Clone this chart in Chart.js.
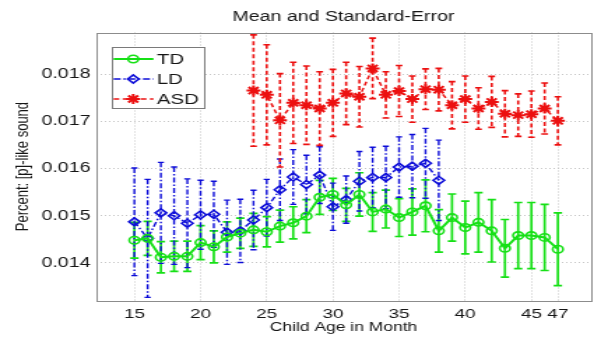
<!DOCTYPE html>
<html>
<head>
<meta charset="utf-8">
<script src="https://cdn.jsdelivr.net/npm/chart.js@4.4.1/dist/chart.umd.min.js"></script>
<style>
  html,body{margin:0;padding:0;background:#fff;overflow:hidden}
  /* the source image is stretched sideways, so draw narrow and stretch */
  #wrap{width:430px;height:337px;transform:scaleX(1.3977);transform-origin:0 0}
</style>
</head>
<body>
<div id="wrap"><canvas id="c"></canvas></div>
<script>
// ====== DATA ======
const titleText = 'Mean and Standard-Error';
const xTitle = 'Child Age in Month';
const yTitle = 'Percent: [p]-like sound';
const xTicks = [15, 20, 25, 30, 35, 40, 45, 47];
const yTicks = [0.014, 0.015, 0.016, 0.017, 0.018];

const tdAges = [15,16,17,18,19,20,21,22,23,24,25,26,27,28,29,30,31,32,33,34,35,36,37,38,39,40,41,42,43,44,45,46,47];
const tdMean = [0.01448,0.01452,0.01412,0.01414,0.01414,0.01443,0.01434,0.01455,0.01463,0.01470,0.01466,0.01478,0.01485,0.01499,0.01539,0.01545,0.01523,0.01545,0.01508,0.01514,0.01496,0.01508,0.01521,0.01468,0.01496,0.01475,0.01486,0.01468,0.01431,0.01458,0.01458,0.01454,0.01429];
const tdErr  = [0.00038,0.00036,0.00033,0.00032,0.00032,0.00036,0.00034,0.00032,0.00032,0.00035,0.00032,0.00034,0.00034,0.00035,0.00036,0.00034,0.00035,0.00046,0.00041,0.00040,0.00040,0.00049,0.00055,0.00045,0.00050,0.00056,0.00063,0.00066,0.00061,0.00070,0.00070,0.00070,0.00077];

const ldAges = [15,16,17,18,19,20,21,22,23,24,25,26,27,28,29,30,31,32,33,34,35,36,37,38];
const ldMean = [0.01487,0.01452,0.01506,0.01500,0.01484,0.01502,0.01503,0.01465,0.01468,0.01491,0.01517,0.01555,0.01582,0.01566,0.01586,0.01519,0.01534,0.01573,0.01581,0.01581,0.01603,0.01605,0.01611,0.01575];
const ldErr  = [0.00114,0.00125,0.00107,0.00103,0.00094,0.00073,0.00070,0.00068,0.00067,0.00063,0.00060,0.00065,0.00058,0.00062,0.00060,0.00050,0.00050,0.00063,0.00064,0.00066,0.00064,0.00067,0.00074,0.00085];

const asdAges = [24,25,26,27,28,29,30,31,32,33,34,35,36,37,38,39,40,41,42,43,44,45,46,47];
const asdMean = [0.01765,0.01756,0.01702,0.01739,0.01734,0.01727,0.01739,0.01759,0.01752,0.01812,0.01756,0.01764,0.01747,0.01768,0.01767,0.01734,0.01747,0.01727,0.01741,0.01716,0.01713,0.01715,0.01727,0.01701];
const asdErr  = [0.00118,0.00106,0.00099,0.00086,0.00083,0.00078,0.00071,0.00066,0.00064,0.00064,0.00049,0.00054,0.00049,0.00043,0.00045,0.00050,0.00049,0.00044,0.00054,0.00049,0.00045,0.00049,0.00054,0.00051];

// ====== STYLE ======
const FONT = 'Liberation Sans, Arial, Helvetica, sans-serif';
const INK = '#151515';
const GREEN = '#16e016', BLUE = '#0c0cd8', RED = '#ec1010';
const pts = (ages, vals) => ages.map((a, i) => ({ x: a, y: vals[i] }));

// ====== PLUGINS ======
const errorBars = {
  id: 'errorBars',
  beforeDatasetsDraw(chart){
    const ctx = chart.ctx, ys = chart.scales.y;
    chart.data.datasets.forEach((ds, i) => {
      const meta = chart.getDatasetMeta(i);
      ctx.save(); ctx.strokeStyle = ds.borderColor; ctx.lineWidth = ds.errWidth;
      meta.data.forEach((p, j) => {
        const v = ds.data[j].y, e = ds.err[j];
        const top = ys.getPixelForValue(v + e), bot = ys.getPixelForValue(v - e), c = ds.cap;
        ctx.setLineDash(ds.borderDash || []);
        ctx.beginPath(); ctx.moveTo(p.x, top); ctx.lineTo(p.x, bot); ctx.stroke();
        ctx.setLineDash([]);
        ctx.beginPath(); ctx.moveTo(p.x - c, top); ctx.lineTo(p.x + c, top);
        ctx.moveTo(p.x - c, bot); ctx.lineTo(p.x + c, bot); ctx.stroke();
      });
      ctx.restore();
    });
  }
};

const frame = {
  id: 'frame',
  afterDraw(chart){
    const { ctx, chartArea: a } = chart;
    ctx.save();
    ctx.strokeStyle = '#8c8c8c'; ctx.lineWidth = 1;
    ctx.strokeRect(Math.round(a.left) + 0.5, Math.round(a.top) + 0.5, Math.round(a.width), Math.round(a.height));
    ctx.fillStyle = INK; ctx.font = `14px ${FONT}`; ctx.textAlign = 'center'; ctx.textBaseline = 'middle';
    ctx.fillText(titleText, (a.left + a.right) / 2, 17);
    // legend box, MATLAB style: line sample with marker
    const bx = a.left + 11.6, by = a.top + 14.8, bw = 65.7, bh = 61;
    ctx.fillStyle = '#fff'; ctx.fillRect(bx, by, bw, bh);
    ctx.strokeStyle = '#7a7a7a'; ctx.strokeRect(Math.round(bx) + 0.5, Math.round(by) + 0.5, Math.round(bw), Math.round(bh));
    chart.data.datasets.forEach((ds, i) => {
      const cy = by + 11.7 + i * 20;
      ctx.strokeStyle = ds.borderColor; ctx.lineWidth = ds.borderWidth;
      ctx.setLineDash(ds.borderDash || []);
      ctx.beginPath(); ctx.moveTo(bx + 1, cy); ctx.lineTo(bx + 29.5, cy); ctx.stroke();
      ctx.setLineDash([]);
      ctx.fillStyle = 'rgba(0,0,0,0)'; ctx.lineWidth = ds.pointBorderWidth;
      Chart.helpers.drawPoint(ctx, { pointStyle: ds.pointStyle, radius: ds.pointRadius, borderWidth: ds.pointBorderWidth, rotation: 0 }, bx + 15, cy);
      ctx.fillStyle = INK; ctx.font = `14.5px ${FONT}`; ctx.textAlign = 'left'; ctx.textBaseline = 'middle';
      ctx.fillText(ds.label, bx + 32, cy + 0.5);
    });
    ctx.restore();
  }
};

// ====== CHART ======
new Chart(document.getElementById('c'), {
  type: 'line',
  data: {
    datasets: [
      { label: 'TD', data: pts(tdAges, tdMean), err: tdErr, borderColor: GREEN, borderWidth: 2,
        pointStyle: 'circle', pointRadius: 3.7, pointBorderWidth: 1.6, pointBorderColor: GREEN,
        pointBackgroundColor: 'rgba(0,0,0,0)', cap: 3, errWidth: 1.7 },
      { label: 'LD', data: pts(ldAges, ldMean), err: ldErr, borderColor: BLUE, borderWidth: 1.4, borderDash: [5, 2, 1.5, 2],
        pointStyle: 'rectRot', pointRadius: 4, pointBorderWidth: 1.6, pointBorderColor: BLUE,
        pointBackgroundColor: 'rgba(0,0,0,0)', cap: 2.2, errWidth: 1.4 },
      { label: 'ASD', data: pts(asdAges, asdMean), err: asdErr, borderColor: RED, borderWidth: 1.5, borderDash: [4, 2.5],
        pointStyle: 'star', pointRadius: 5, pointBorderWidth: 2, pointBorderColor: RED,
        pointBackgroundColor: RED, cap: 2.4, errWidth: 1.6 }
    ]
  },
  options: {
    responsive: true, maintainAspectRatio: false, animation: false,
    layout: { padding: { top: 32.5, right: 7.2, left: 0, bottom: 0 } },
    elements: { line: { tension: 0 } },
    plugins: { legend: { display: false }, tooltip: { enabled: false } },
    scales: {
      x: {
        type: 'linear', min: 12.1, max: 49.5,
        afterBuildTicks: s => { s.ticks = xTicks.map(v => ({ value: v })); },
        afterFit: s => { s.height = 36.3; },
        ticks: { font: { size: 13.5, family: FONT }, color: INK, padding: 5, maxRotation: 0, autoSkip: false, callback: v => String(v) },
        grid: { color: '#c6c6c6', drawTicks: false },
        border: { display: false, dash: [1, 2] },
        title: { display: true, text: xTitle, color: INK, font: { size: 12.5, family: FONT }, padding: { top: 0, bottom: 2 } }
      },
      y: {
        type: 'linear', min: 0.0132, max: 0.01888,
        afterBuildTicks: s => { s.ticks = yTicks.map(v => ({ value: v })); },
        afterFit: s => { s.width = 68.7; },
        ticks: { font: { size: 14, family: FONT }, color: INK, padding: 4, callback: v => v.toFixed(3) },
        grid: { color: '#c6c6c6', drawTicks: false },
        border: { display: false, dash: [1, 2] },
        title: { display: true, text: yTitle, color: INK, font: { size: 13, family: FONT }, padding: { top: 9, bottom: 0 } }
      }
    }
  },
  plugins: [errorBars, frame]
});
</script>
</body>
</html>
